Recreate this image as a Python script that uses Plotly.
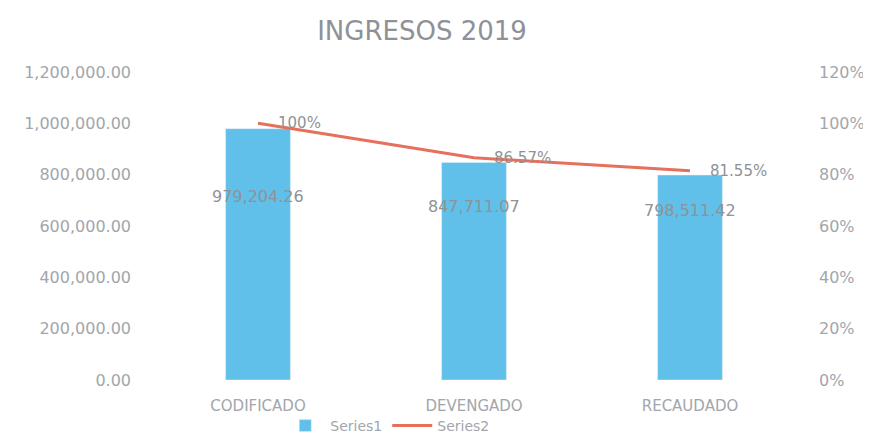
import plotly.graph_objects as go

categories = ["CODIFICADO", "DEVENGADO", "RECAUDADO"]
series1 = [979204.26, 847711.07, 798511.42]
series2 = [1.00, 0.8657, 0.8155]
series1_labels = ["979,204.26", "847,711.07", "798,511.42"]
series2_labels = ["100%", "86.57%", "81.55%"]
left_ticks = [0, 200000, 400000, 600000, 800000, 1000000, 1200000]
left_tick_text = ["0.00", "200,000.00", "400,000.00", "600,000.00", "800,000.00", "1,000,000.00", "1,200,000.00"]
right_ticks = [0, 0.2, 0.4, 0.6, 0.8, 1.0, 1.2]
right_tick_text = ["0%", "20%", "40%", "60%", "80%", "100%", "120%"]

# label vertical offsets (style, px)
bar_label_shift = [-68, -44, -35]

FONT = "DejaVu Sans"
GRAY = "#a2a6ab"
LABEL = "#8f9296"
BAR = "#61c0e9"
LINE = "#e6705c"

# the page places the figure 8px from the top-left corner
W, H = 863, 427

fig = go.Figure()
fig.add_trace(go.Bar(x=categories, y=series1, name="Series1", marker_color=BAR,
                     width=0.3, yaxis="y"))
fig.add_trace(go.Scatter(x=categories, y=series2, name="Series2", mode="lines",
                         line=dict(color=LINE, width=3), yaxis="y2"))

annotations = []
for c, v, t, s in zip(categories, series1, series1_labels, bar_label_shift):
    annotations.append(dict(x=c, y=v, yref="y", text=t, showarrow=False,
                            yshift=s, font=dict(family=FONT, size=16, color=LABEL)))
for c, v, t in zip(categories, series2, series2_labels):
    annotations.append(dict(x=c, y=v, yref="y2", text=t, showarrow=False,
                            xanchor="left", xshift=18,
                            font=dict(family=FONT, size=15, color=LABEL)))

fig.update_layout(
    width=W, height=H,
    margin=dict(l=142, r=73, t=64, b=55),
    paper_bgcolor="white", plot_bgcolor="white",
    title=dict(text="INGRESOS 2019", x=414 / W, xanchor="center",
               y=1 - 23 / H, yanchor="middle",
               font=dict(family=FONT, size=26, color="#8e9196")),
    xaxis=dict(showgrid=False, showline=False, ticks="", ticklabelstandoff=15,
               automargin=False,
               tickfont=dict(family=FONT, size=15, color=GRAY)),
    yaxis=dict(range=[0, 1200000], tickvals=left_ticks, ticktext=left_tick_text,
               showgrid=False, zeroline=False, showline=False, ticklabelstandoff=18,
               automargin=False,
               tickfont=dict(family=FONT, size=16, color=GRAY)),
    yaxis2=dict(range=[0, 1.2], tickvals=right_ticks, ticktext=right_tick_text,
                overlaying="y", side="right", showgrid=False, zeroline=False,
                showline=False, ticklabelstandoff=20, automargin=False,
                tickfont=dict(family=FONT, size=16, color=GRAY)),
    legend=dict(orientation="h", x=316 / W, xanchor="center",
                yref="container", y=1 - 418 / H, yanchor="middle",
                itemwidth=40, bgcolor="rgba(0,0,0,0)",
                font=dict(family=FONT, size=14, color=GRAY)),
    annotations=annotations,
    showlegend=True,
)

fig.write_html("out.html")
